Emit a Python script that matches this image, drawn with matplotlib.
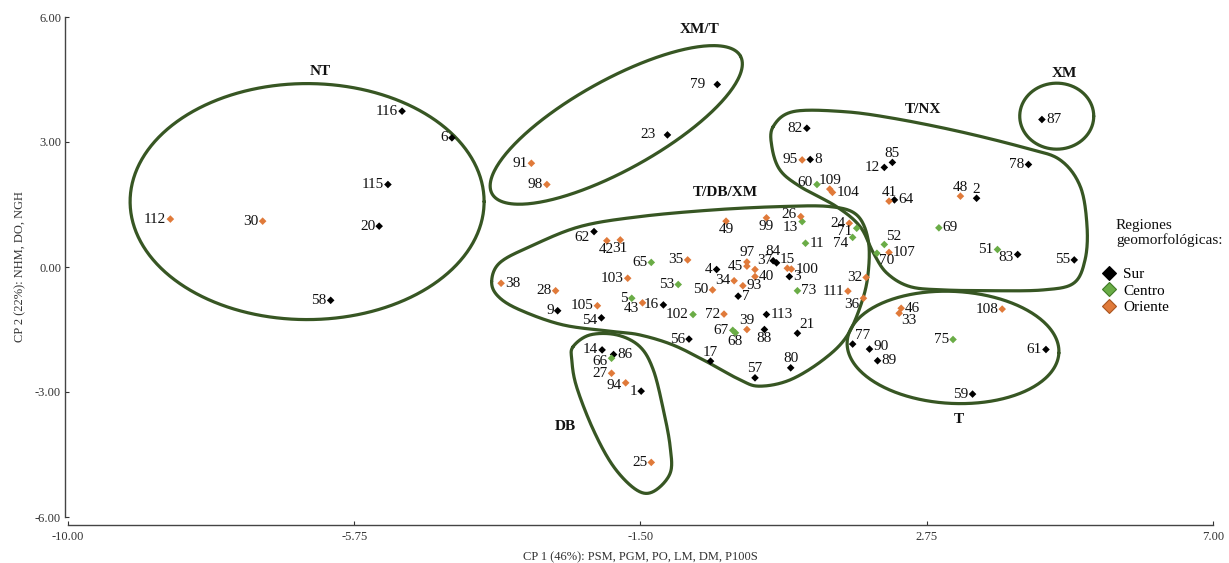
import numpy as np
import matplotlib
matplotlib.use("Agg")
import matplotlib.pyplot as plt
from matplotlib.lines import Line2D

plt.rcParams['font.family'] = ['Liberation Serif', 'DejaVu Serif']

# ---------------- data ----------------
ids = [116, 6, 115, 20, 58, 112, 30,
       79, 23, 91, 98,
       82, 95, 8, 85, 12, 78, 87, 60, 109, 104, 41, 64, 48, 2, 69, 51, 83, 55,
       52, 107, 70, 24, 71, 74, 26, 13, 99, 49, 11,
       62, 42, 31, 65, 35, 4, 45, 97, 37, 84, 0, 15, 100, 40, 3, 34, 93, 50, 7,
       73, 111, 32, 36, 103, 53, 38, 28, 9, 105, 54, 5, 43, 16, 102, 72, 113,
       39, 67, 68, 88, 21, 56, 17, 57, 80,
       14, 86, 66, 27, 94, 1, 25,
       77, 90, 89, 46, 33, 108, 75, 61, 59]
cp1 = [-5.04, -4.30, -5.25, -5.38, -6.10, -8.48, -7.11,
       -0.36, -1.10, -3.12, -2.89,
       0.97, 0.90, 1.02, 2.24, 2.12, 4.26, 4.46, 1.12, 1.31, 1.35, 2.19, 2.27, 3.25, 3.49, 2.93, 3.80, 4.10, 4.94,
       2.12, 2.19, 2.01, 1.60, 1.71, 1.65, 0.88, 0.90, 0.37, -0.23, 0.95,
       -2.19, -2.00, -1.80, -1.34, -0.80, -0.37, 0.08, 0.08, 0.20, 0.47, 0.52, 0.68, 0.74, 0.20, 0.71, -0.11, 0.02, -0.43, -0.05,
       0.83, 1.58, 1.85, 1.81, -1.69, -0.94, -3.57, -2.76, -2.73, -2.14, -2.08, -1.63, -1.47, -1.16, -0.72, -0.26, 0.37,
       0.08, -0.13, -0.09, 0.34, 0.83, -0.78, -0.46, 0.20, 0.73,
       -2.07, -1.90, -1.93, -1.93, -1.72, -1.49, -1.34,
       1.65, 1.90, 2.02, 2.37, 2.34, 3.87, 3.14, 4.52, 3.43]
cp2 = [3.74, 3.10, 1.98, 0.98, -0.80, 1.15, 1.10,
       4.38, 3.17, 2.49, 1.98,
       3.33, 2.57, 2.58, 2.51, 2.39, 2.46, 3.54, 1.98, 1.87, 1.79, 1.58, 1.61, 1.70, 1.65, 0.94, 0.42, 0.30, 0.17,
       0.54, 0.35, 0.33, 1.05, 0.93, 0.71, 1.21, 1.09, 1.18, 1.10, 0.57,
       0.85, 0.63, 0.65, 0.11, 0.17, -0.06, 0.02, 0.12, -0.06, 0.15, 0.10, -0.03, -0.05, -0.23, -0.23, -0.33, -0.45, -0.55, -0.70,
       -0.57, -0.58, -0.25, -0.75, -0.27, -0.42, -0.39, -0.57, -1.05, -0.93, -1.22, -0.75, -0.86, -0.91, -1.14, -1.13, -1.14,
       -1.50, -1.52, -1.58, -1.50, -1.59, -1.73, -2.26, -2.66, -2.42,
       -1.99, -2.10, -2.19, -2.55, -2.78, -2.98, -4.69,
       -1.85, -1.97, -2.25, -0.99, -1.11, -1.01, -1.74, -1.98, -3.05]
region = ['S', 'S', 'S', 'S', 'S', 'O', 'O',
          'S', 'S', 'O', 'O',
          'S', 'O', 'S', 'S', 'S', 'S', 'S', 'C', 'O', 'O', 'O', 'S', 'O', 'S', 'C', 'C', 'S', 'S',
          'C', 'O', 'C', 'O', 'C', 'C', 'O', 'C', 'O', 'O', 'C',
          'S', 'O', 'O', 'C', 'O', 'S', 'O', 'O', 'O', 'S', 'S', 'O', 'O', 'O', 'S', 'O', 'O', 'O', 'S',
          'C', 'O', 'O', 'O', 'O', 'C', 'O', 'O', 'S', 'O', 'S', 'C', 'O', 'S', 'C', 'O', 'S',
          'O', 'C', 'C', 'S', 'S', 'S', 'S', 'S', 'S',
          'S', 'S', 'C', 'O', 'O', 'S', 'O',
          'S', 'S', 'S', 'O', 'O', 'O', 'C', 'S', 'S']

region_names = {'S': 'Sur', 'C': 'Centro', 'O': 'Oriente'}
region_colors = {'S': '#000000', 'C': '#6aac46', 'O': '#e07a3a'}
legend_edges = {'S': '#000000', 'C': '#3f7a26', 'O': '#a8541f'}
legend_title = 'Regiones\ngeomorfológicas:'

group_names = ['NT', 'XM/T', 'T/DB/XM', 'T/NX', 'XM', 'DB', 'T']
group_label_x = [-6.26, -0.62, -0.24, 2.70, 4.79, -2.62, 3.22]
group_label_y = [4.70, 5.71, 1.78, 3.78, 4.65, -3.82, -3.67]

# label placement codes (default: left of the marker)
placement = {}
for k in [8, 87, 104, 64, 69, 107, 11, 100, 40, 3, 93, 7, 73, 38, 113, 86, 89, 46]:
    placement[k] = 'r'
for k in [85, 109, 41, 48, 2, 97, 84, 15, 39, 17, 57, 80]:
    placement[k] = 't'
for k in [99, 49, 42, 31, 68, 88]:
    placement[k] = 'b'
for k in [52, 37, 21, 77]:
    placement[k] = 'tr'
for k in [90]:
    placement[k] = 'ru'
for k in [70, 33]:
    placement[k] = 'br'
for k in [62, 13, 74, 36, 43]:
    placement[k] = 'bl'
for k in [66, 94, 54, 83, 71]:
    placement[k] = 'ld'
for k in [26, 60]:
    placement[k] = 'tl'
for k in [79, 23]:
    placement[k] = 'L'

# ---------------- figure ----------------
W, H = 1229, 563
fig = plt.figure(figsize=(W / 100, H / 100), dpi=100)
ax_l, ax_b, ax_w, ax_h = 68 / W, (H - 517) / H, 1145 / W, 500 / H
ax = fig.add_axes([ax_l, ax_b, ax_w, ax_h])
xmin, xmax, ymin, ymax = -10, 7, -6, 6
ax.set_xlim(xmin, xmax)
ax.set_ylim(ymin, ymax)
sx = W * ax_w / (xmax - xmin)   # px per x unit
sy = H * ax_h / (ymax - ymin)   # px per y unit

for side in ['top', 'right']:
    ax.spines[side].set_visible(False)
ax.spines['bottom'].set_position(('outward', 6))
ax.spines['left'].set_position(('outward', 2))
for side in ['bottom', 'left']:
    ax.spines[side].set_color('#444444')
    ax.spines[side].set_linewidth(1.0)

xt = [-10, -5.75, -1.5, 2.75, 7]
yt = [-6, -3, 0, 3, 6]
ax.set_xticks(xt)
ax.set_yticks(yt)
ax.set_xticklabels([f'{v:.2f}' for v in xt])
ax.set_yticklabels([f'{v:.2f}' for v in yt])
ax.tick_params(direction='in', length=3, width=0.8, labelsize=9, colors='#333333', pad=4)
ax.tick_params(axis='y', pad=3)
ax.set_xlabel('CP 1 (46%): PSM, PGM, PO, LM, DM, P100S', fontsize=9, color='#333333', labelpad=6)
ax.set_ylabel('CP 2 (22%): NHM, DO, NGH', fontsize=9, color='#333333', labelpad=6)

outline = '#375623'
lw = 2.3


def smooth_closed(pts, n=24):
    P = np.asarray(pts, dtype=float)
    N = len(P)
    t = np.linspace(0, 1, n, endpoint=False)[:, None]
    segs = []
    for i in range(N):
        p0, p1, p2, p3 = P[i - 1], P[i], P[(i + 1) % N], P[(i + 2) % N]
        segs.append(0.5 * ((2 * p1) + (-p0 + p2) * t + (2 * p0 - 5 * p1 + 4 * p2 - p3) * t ** 2
                           + (-p0 + 3 * p1 - 3 * p2 + p3) * t ** 3))
    out = np.vstack(segs)
    return np.vstack([out, out[:1]])


def ellipse(cx, cy, a_px, b_px, ang_deg=0.0, n=300):
    t = np.linspace(0, 2 * np.pi, n)
    th = np.deg2rad(ang_deg)
    ex = a_px * np.cos(t) * np.cos(th) - b_px * np.sin(t) * np.sin(th)
    ey = a_px * np.cos(t) * np.sin(th) + b_px * np.sin(t) * np.cos(th)
    return np.column_stack([cx + ex / sx, cy + ey / sy])


# group outlines (annotation shapes)
shapes = []
shapes.append(ellipse(-6.45, 1.57, 177, 118))            # NT
shapes.append(ellipse(-1.86, 3.41, 142, 45, 29))         # XM/T
shapes.append(ellipse(4.68, 3.62, 37, 33))               # XM
shapes.append(ellipse(3.14, -1.93, 106, 56, -3))         # T
tdbxm = [(-3.71, -0.35), (-3.59, 0.10), (-3.14, 0.49), (-2.40, 0.97), (-1.51, 1.21),
         (-0.42, 1.37), (0.57, 1.45), (1.31, 1.45), (1.71, 1.25), (1.88, 0.65),
         (1.88, -0.15), (1.78, -0.87), (1.56, -1.67), (1.21, -2.23), (0.72, -2.71),
         (0.27, -2.86), (-0.02, -2.71), (-0.52, -2.27), (-1.02, -1.87), (-1.51, -1.63),
         (-1.90, -1.55), (-2.65, -1.39), (-3.29, -1.03), (-3.61, -0.71)]
shapes.append(smooth_closed(tdbxm))
tnx = [(0.47, 3.37), (0.77, 3.73), (1.51, 3.73), (2.25, 3.57), (3.24, 3.25), (4.23, 2.85),
       (4.73, 2.57), (5.03, 1.93), (5.13, 0.97), (5.10, 0.17), (4.93, -0.39), (4.48, -0.55),
       (3.74, -0.57), (3.00, -0.55), (2.50, -0.47), (2.16, -0.15), (1.96, 0.33), (1.76, 0.97),
       (1.41, 1.45), (0.87, 1.93), (0.57, 2.33), (0.45, 2.89)]
shapes.append(smooth_closed(tnx))
db = [(-2.50, -1.91), (-2.25, -1.63), (-1.85, -1.63), (-1.51, -1.91), (-1.31, -2.47),
      (-1.16, -3.43), (-1.06, -4.31), (-1.06, -4.95), (-1.31, -5.39), (-1.56, -5.35),
      (-1.90, -4.79), (-2.20, -3.91), (-2.45, -2.87), (-2.52, -2.23)]
shapes.append(smooth_closed(db))
for s in shapes:
    ax.plot(s[:, 0], s[:, 1], color=outline, lw=lw, solid_capstyle='round', zorder=1)

# points
x_a = np.array(cp1)
y_a = np.array(cp2)
reg_a = np.array(region)
for r in ['S', 'C', 'O']:
    m = reg_a == r
    ax.scatter(x_a[m], y_a[m], marker='D', s=15, color=region_colors[r],
               edgecolors='none', zorder=3)

offs = {'l': (-4, 0, 'right', 'center'), 'r': (4, 0, 'left', 'center'),
        't': (0, 2.5, 'center', 'bottom'), 'b': (0, -2, 'center', 'top'),
        'tr': (2, 2, 'left', 'bottom'), 'br': (2, -1, 'left', 'top'),
        'ru': (4, 3, 'left', 'center'),
        'bl': (-4, -6, 'right', 'center'), 'ld': (-4, -3, 'right', 'center'),
        'tl': (-4, 2.5, 'right', 'center'),
        'L': (-12, 0, 'right', 'center')}
for i, x, y in zip(ids, cp1, cp2):
    if i == 0:
        continue
    dx, dy, ha, va = offs[placement.get(i, 'l')]
    ax.annotate(str(i), (x, y), xytext=(dx * 0.72, dy * 0.72), textcoords='offset points',
                ha=ha, va=va, fontsize=11, color='#111111', zorder=4)

for name, gx, gy in zip(group_names, group_label_x, group_label_y):
    ax.text(gx, gy, name, ha='center', va='center', fontsize=11, fontweight='bold', color='#111111')

# legend
fig.text(1116 / W, 1 - 219 / H, legend_title, ha='left', va='top', fontsize=11,
         color='#111111', linespacing=1.1)
handles = [Line2D([], [], marker='D', linestyle='none', markersize=7,
                  markerfacecolor=region_colors[r], markeredgecolor=legend_edges[r],
                  markeredgewidth=0.8) for r in ['S', 'C', 'O']]
leg = ax.legend(handles, [region_names[r] for r in ['S', 'C', 'O']],
                loc='upper left',
                bbox_to_anchor=(1094 / W, 1 - 260 / H), bbox_transform=fig.transFigure,
                frameon=False, fontsize=11,
                handletextpad=0.4, handlelength=1.0, labelspacing=0.18, borderpad=0)

fig.savefig('out.png', dpi=100)
